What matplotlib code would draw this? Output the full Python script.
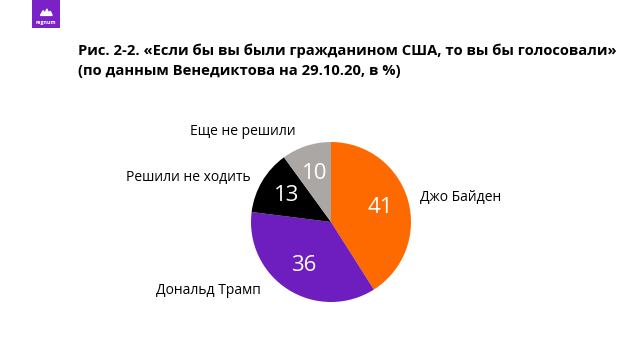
import numpy as np
import matplotlib.pyplot as plt
from matplotlib.patches import Rectangle, Polygon

plt.rcParams['font.family'] = ['Open Sans', 'DejaVu Sans']

# data
labels = ['Джо Байден', 'Дональд Трамп', 'Решили не ходить', 'Еще не решили']
values = [41, 36, 13, 10]
colors = ['#FF6A00', '#6E1DBE', '#000000', '#ABA7A4']
title = ('Рис. 2-2. «Если бы вы были гражданином США, то вы бы голосовали»\n'
         '(по данным Венедиктова на 29.10.20, в %)')

fig = plt.figure(figsize=(6.4, 3.6), dpi=100)

# logo
logo = fig.add_axes([32/640, 1 - 28/360, 28/640, 28/360])
logo.set_xlim(0, 1)
logo.set_ylim(0, 1)
logo.axis('off')
logo.add_patch(Rectangle((0, 0), 1, 1, color='#7A22C8'))
logo.add_patch(Polygon([(0.3, 0.45), (0.4, 0.62), (0.47, 0.52), (0.53, 0.68),
                        (0.6, 0.52), (0.65, 0.6), (0.72, 0.45)], color='white'))
logo.text(0.5, 0.2, 'regnum', color='white', fontsize=3.8, ha='center', va='center',
          fontweight='bold')

fig.text(78/640, 1 - 61/360, title, fontsize=10.6, fontweight='bold', ha='left', va='center',
         linespacing=1.5)

# pie
ax = fig.add_axes([(331 - 80)/640, (360 - 302)/360, 160/640, 160/360])
wedges, texts, autotexts = ax.pie(values, labels=labels, colors=colors, startangle=90,
                                  counterclock=False, radius=1, labeldistance=1.1,
                                  autopct='%d', pctdistance=0.64,
                                  textprops={'fontsize': 10})
for t in autotexts:
    t.set_fontsize(16)
    t.set_color('white')
# nudge outer labels to match original layout
texts[0].set_position((1.11, 0.31))
texts[1].set_position((-0.88, -0.85))
texts[1].set_ha('right')
texts[2].set_position((-1.0, 0.56))
texts[3].set_position((-0.44, 1.13))
texts[3].set_ha('right')
for t in texts:
    t.set_va('center')
ax.set_xlim(-1, 1)
ax.set_ylim(-1, 1)
ax.set_aspect('equal')

fig.savefig('out.png', dpi=100)
